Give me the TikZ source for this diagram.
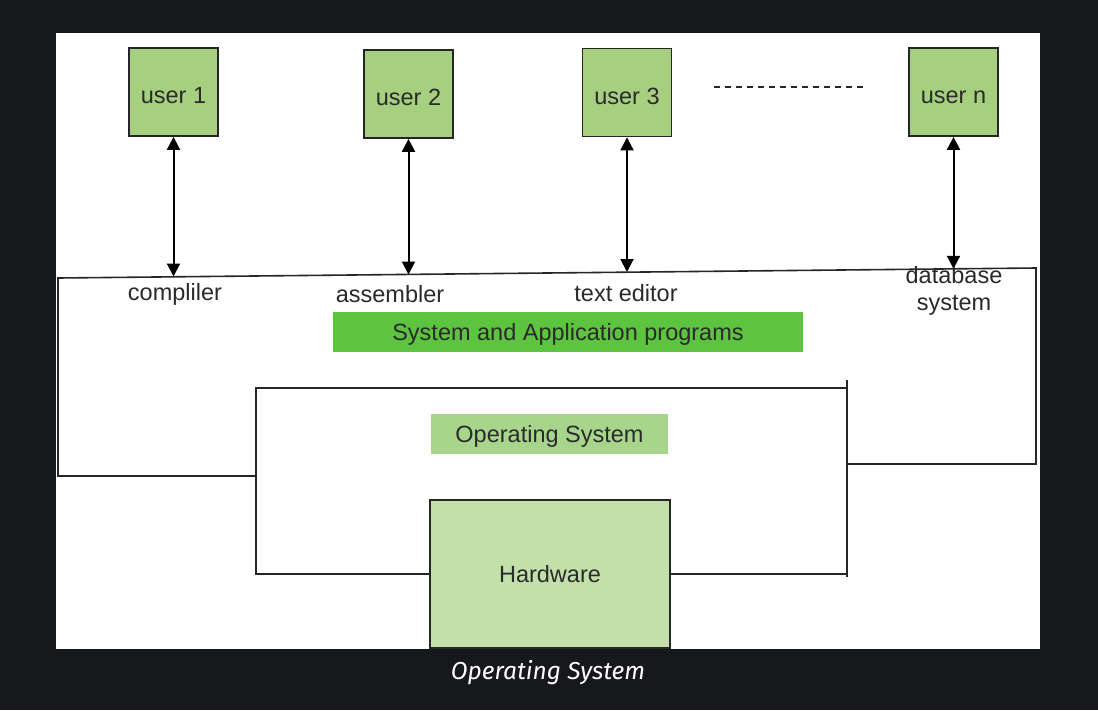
\documentclass[tikz,border=0pt]{standalone}
\usepackage{fontspec}
\setmainfont{Liberation Sans}
\newfontfamily\capfont{Fira Sans}
\usetikzlibrary{arrows.meta}
\definecolor{bgdark}{HTML}{16181C}
\definecolor{userfill}{HTML}{A6D07F}
\definecolor{sysfill}{HTML}{5CC43E}
\definecolor{osfill}{HTML}{A8D58C}
\definecolor{hwfill}{HTML}{C3E0AB}
\definecolor{txt}{HTML}{2A2A2A}
\tikzset{
  userbox/.style={draw=black!85, line width=1.8pt, fill=userfill, minimum width=89pt, minimum height=88pt, inner sep=0pt, font=\fontsize{23.5}{26}\selectfont, text=txt, text height=23pt, text depth=0pt},
  band/.style={inner sep=0pt, font=\fontsize{23.5}{26}\selectfont, text=txt, text height=21pt, text depth=5pt},
  lbl/.style={inner sep=0pt, font=\fontsize{23.5}{24}\selectfont, text=txt, align=center},
  frame/.style={draw=black!85, line width=1.6pt},
  conn/.style={draw=black, line width=2pt, {Triangle[length=13pt,width=13pt]}-{Triangle[length=13pt,width=13pt]}},
}
\begin{document}
\begin{tikzpicture}[x=1pt,y=-1pt]
\fill[bgdark] (0,0) rectangle (1098,710);
\useasboundingbox (0,0) rectangle (1098,710);
\fill[white] (56,33) rectangle (1040,649);

% users
\node[userbox] (u1) at (173.5,92) {user 1};
\node[userbox] (u2) at (408.5,94) {user 2};
\node[userbox] (u3) at (627,92.5) {user 3};
\node[userbox] (un) at (953.5,92) {user n};
\coordinate (d1) at (714,87);
\coordinate (d2) at (866,87);
\draw[black!85, line width=1.5pt, dash pattern=on 6pt off 5pt] (d1) -- (d2);

% outer frame
\coordinate (tl) at (58,278);
\coordinate (tr) at (1036,268);
\coordinate (bl) at (58,476);
\coordinate (blr) at (256,476);
\coordinate (br) at (1036,464);
\coordinate (brl) at (847,464);
\draw[frame] (blr) -- (bl) -- (tl) -- (tr) -- (br) -- (brl);

% arrow endpoints on top line
\coordinate (a1) at (173.5,276.5);
\coordinate (a2) at (408.5,274.5);
\coordinate (a3) at (627,272);
\coordinate (an) at (953.5,268.8);
\draw[conn] (u1.south) -- (a1);
\draw[conn] (u2.south) -- (a2);
\draw[conn] (u3.south) -- (a3);
\draw[conn] (un.south) -- (an);

% labels
\node[lbl] (l1) at (175,294) {compliler};
\node[lbl] (l2) at (390,294) {assembler};
\node[lbl] (l3) at (626,293) {text editor};
\node[lbl, font=\fontsize{23.5}{27}\selectfont] (ln) at (954,291) {database\\system};

% system band
\node[band, fill=sysfill, minimum width=470pt, minimum height=40pt] (sys) at (568,332) {System and Application programs};

% inner frame
\node[draw=black!85, line width=1.6pt, fill=hwfill, minimum width=240pt, minimum height=148pt, inner sep=0pt, font=\fontsize{23.5}{26}\selectfont, text=txt] (hw) at (550,574) {Hardware};
\coordinate (itl) at (256,388);
\coordinate (itr) at (848,388);
\coordinate (ibl) at (256,574);
\coordinate (ibr) at (847,574);
\coordinate (irt) at (847,380);
\coordinate (irb) at (847,577);
\draw[frame] (hw.west) -- (ibl) -- (itl) -- (itr);
\draw[frame] (hw.east) -- (ibr);
\draw[frame] (irt) -- (irb);

\node[band, fill=osfill, minimum width=237pt, minimum height=40pt] (os) at (549.5,434) {Operating System};

% caption
\node[inner sep=0pt, text=white, font=\capfont\itshape\fontsize{24.5}{26}\selectfont] (cap) at (548,673) {Operating System};
\end{tikzpicture}
\end{document}
